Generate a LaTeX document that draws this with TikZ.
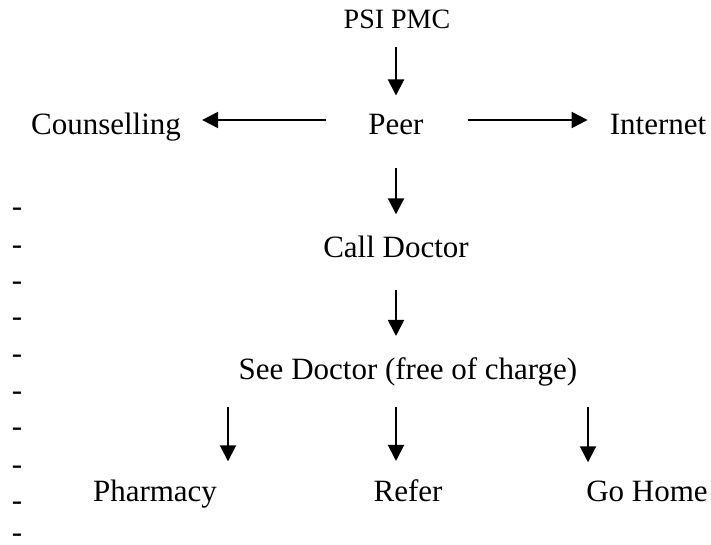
\documentclass[tikz,border=0pt]{standalone}
\usepackage{fontspec}
\setmainfont{Liberation Serif}
\usetikzlibrary{arrows.meta}
\begin{document}
\begin{tikzpicture}[x=1pt,y=-1pt,
  lbl/.style={anchor=base,inner sep=0pt,font=\fontsize{31}{37}\selectfont},
  toplbl/.style={lbl,font=\fontsize{28}{34}\selectfont},
  flow/.style={line width=2pt,-{Triangle[length=16pt,width=16pt]}}]
\useasboundingbox (0,0) rectangle (711,545);

% labels
\node[toplbl] (psi)   at (397,29)  {PSI PMC};
\node[lbl]    (peer)  at (396,135) {Peer};
\node[lbl]    (couns) at (106,135) {Counselling};
\node[lbl]    (inet)  at (658,135) {Internet};
\node[lbl]    (call)  at (396,257) {Call Doctor};
\node[lbl]    (see)   at (408,379) {See Doctor (free of charge)};
\node[lbl]    (pharm) at (155,501) {Pharmacy};
\node[lbl]    (refer) at (408,501) {Refer};
\node[lbl]    (home)  at (647,501) {Go Home};

% column of hyphens down the left margin
\foreach \i/\yy in {1/217,2/254,3/290,4/326,5/363,6/400,7/436,8/474,9/510,10/542}
  \node[lbl,text depth=0pt] (d\i) at (17,\yy) {-};

% main column
\draw[flow,shorten <=18pt,shorten >=19pt] ([xshift=-1pt]psi.south) -- (peer.north);
\draw[flow,shorten <=32pt,shorten >=21pt] (peer.south) -- (call.north);
\draw[flow,shorten <=32pt,shorten >=21pt] (call.south) -- ([xshift=-12pt]see.north);

% side branches from Peer
\draw[flow,shorten <=42pt,shorten >=21pt] ([yshift=15pt]peer.base west) -- ([yshift=15pt]couns.base east);
\draw[flow,shorten <=44pt,shorten >=22pt] ([yshift=15pt]peer.base east) -- ([yshift=15pt]inet.base west);

% outcomes of the visit
\draw[flow,shorten <=21pt,shorten >=18pt] ([xshift=-180pt]see.south) -- ([xshift=73pt]pharm.north);
\draw[flow,shorten <=21pt,shorten >=18pt] ([xshift=-12pt]see.south) -- ([xshift=-12pt]refer.north);
\draw[flow,shorten <=21pt,shorten >=18pt] ([xshift=180pt]see.south) -- ([xshift=-59pt]home.north);
\end{tikzpicture}
\end{document}
